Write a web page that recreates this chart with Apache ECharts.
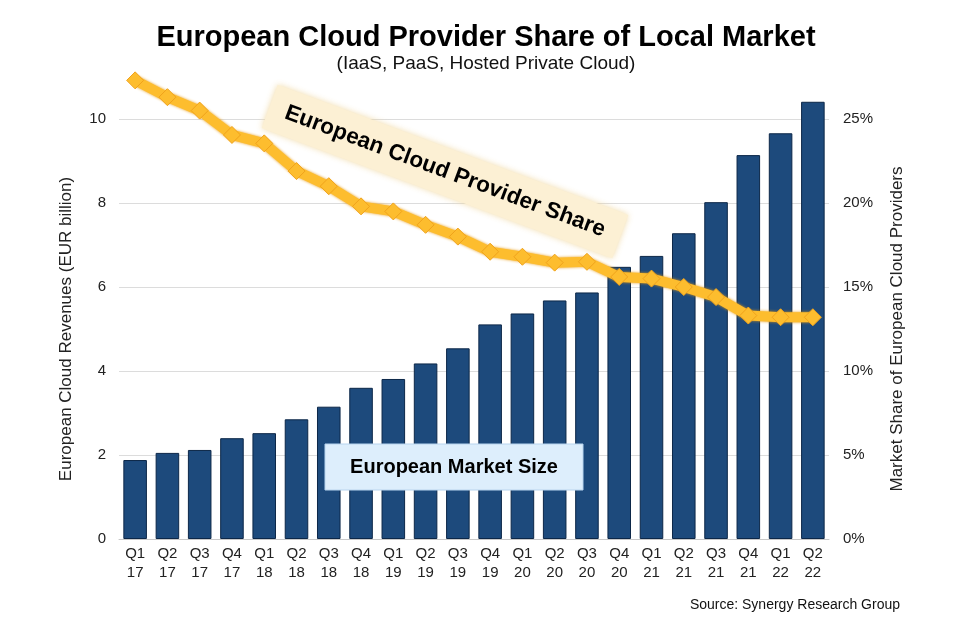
<!DOCTYPE html>
<html>
<head>
<meta charset="utf-8">
<script src="https://cdn.jsdelivr.net/npm/echarts@6/dist/echarts.min.js"></script>
<style>
html,body{margin:0;padding:0;background:#fff;}
#chart{width:980px;height:632px;}
</style>
</head>
<body>
<div id="chart"></div>
<script>
const quarters = ['Q1','Q2','Q3','Q4','Q1','Q2','Q3','Q4','Q1','Q2','Q3','Q4','Q1','Q2','Q3','Q4','Q1','Q2','Q3','Q4','Q1','Q2'];
const years = ['17','17','17','17','18','18','18','18','19','19','19','19','20','20','20','20','21','21','21','21','22','22'];
const revenue = [1.88, 2.05, 2.12, 2.40, 2.52, 2.85, 3.15, 3.60, 3.81, 4.18, 4.54, 5.11, 5.37, 5.68, 5.87, 6.48, 6.74, 7.28, 8.02, 9.14, 9.66, 10.41];
const share = [27.3, 26.3, 25.5, 24.05, 23.55, 21.9, 21.0, 19.8, 19.5, 18.7, 18.0, 17.1, 16.8, 16.45, 16.5, 15.6, 15.5, 15.0, 14.4, 13.3, 13.2, 13.2];
const leftTicks = [0, 2, 4, 6, 8, 10];
const rightTicks = [0, 5, 10, 15, 20, 25];

const categories = quarters.map((q, i) => q + '\n' + years[i]);
const FONT = 'Liberation Sans, Arial, sans-serif';

const chart = echarts.init(document.getElementById('chart'));
chart.setOption({
  backgroundColor: '#ffffff',
  animation: false,
  title: {
    text: 'European Cloud Provider Share of Local Market',
    subtext: '(IaaS, PaaS, Hosted Private Cloud)',
    left: 481,
    textAlign: 'center',
    top: 18,
    itemGap: 2,
    textStyle: {fontFamily: FONT, fontSize: 29, fontWeight: 'bold', color: '#000'},
    subtextStyle: {fontFamily: FONT, fontSize: 19, color: '#111'}
  },
  grid: {left: 119, right: 151, top: 119, bottom: 93},
  xAxis: {
    type: 'category',
    data: categories,
    axisTick: {show: false},
    axisLine: {lineStyle: {color: '#c8c8c8'}},
    axisLabel: {fontFamily: FONT, fontSize: 15, color: '#222', lineHeight: 19, margin: 5, interval: 0}
  },
  yAxis: [
    {
      type: 'value', min: leftTicks[0], max: leftTicks[leftTicks.length - 1], interval: 2,
      name: 'European Cloud Revenues (EUR billion)',
      nameLocation: 'middle', nameGap: 44,
      nameTextStyle: {fontFamily: FONT, fontSize: 17, color: '#222'},
      axisLine: {show: false}, axisTick: {show: false},
      axisLabel: {fontFamily: FONT, fontSize: 15, color: '#222', margin: 13},
      splitLine: {lineStyle: {color: '#dcdcdc'}}
    },
    {
      type: 'value', min: rightTicks[0], max: rightTicks[rightTicks.length - 1], interval: 5,
      name: 'Market Share of European Cloud Providers',
      nameLocation: 'middle', nameGap: 60, nameRotate: 90,
      nameTextStyle: {fontFamily: FONT, fontSize: 17, color: '#222'},
      axisLine: {show: false}, axisTick: {show: false},
      axisLabel: {fontFamily: FONT, fontSize: 15, color: '#222', margin: 14, formatter: '{value}%'},
      splitLine: {show: false}
    }
  ],
  series: [
    {
      type: 'bar', yAxisIndex: 0, data: revenue, clip: false,
      barCategoryGap: '27%',
      itemStyle: {color: '#1d4a7c', borderColor: '#0c2748', borderWidth: 1},
      z: 2
    },
    {
      type: 'line', yAxisIndex: 1, data: share, clip: false,
      symbol: 'diamond', symbolSize: 17,
      lineStyle: {color: '#FDBD2E', width: 10, shadowColor: '#E89A10', shadowBlur: 3},
      itemStyle: {color: '#FDBD2E', borderColor: '#F0A21C', borderWidth: 1},
      z: 5
    }
  ],
  graphic: {
    elements: [
      {
        type: 'group', x: 445, y: 171.5, rotation: -0.356, z: 100,
        children: [
          {type: 'rect', z: 100, shape: {x: -187, y: -23, width: 374, height: 46},
           style: {fill: '#FCF0D4', shadowColor: 'rgba(240,215,160,0.9)', shadowBlur: 6}},
          {type: 'text', z: 101, x: 0, y: 0,
           style: {text: 'European Cloud Provider Share', fontFamily: FONT, fontSize: 22.5, fontWeight: 'bold',
                   fill: '#000', align: 'center', verticalAlign: 'middle'}}
        ]
      },
      {
        type: 'group', x: 454, y: 467, z: 100,
        children: [
          {type: 'rect', z: 100, shape: {x: -129, y: -23, width: 258, height: 46},
           style: {fill: '#DDEEFC', stroke: '#b8d4ee', lineWidth: 1}},
          {type: 'text', z: 101, x: 0, y: 0,
           style: {text: 'European Market Size', fontFamily: FONT, fontSize: 20, fontWeight: 'bold',
                   fill: '#000', align: 'center', verticalAlign: 'middle'}}
        ]
      },
      {
        type: 'text', right: 80, top: 598, z: 100,
        style: {text: 'Source: Synergy Research Group', fontFamily: FONT, fontSize: 14, fill: '#111'}
      }
    ]
  }
});
</script>
</body>
</html>
